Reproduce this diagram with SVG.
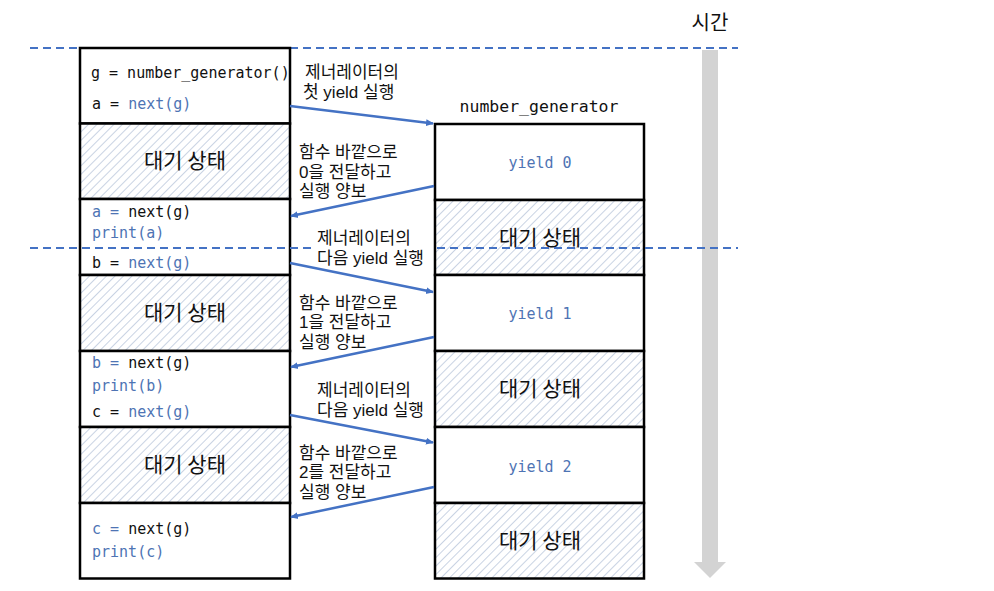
<svg xmlns="http://www.w3.org/2000/svg" width="994" height="591" viewBox="0 0 994 591">
<defs>
<pattern id="hatch" width="6" height="6" patternUnits="userSpaceOnUse" patternTransform="rotate(45)">
<rect width="6" height="6" fill="#ffffff"/>
<line x1="0" y1="0" x2="0" y2="6" stroke="#c9d3e3" stroke-width="2"/>
</pattern>
<marker id="ah" markerWidth="8" markerHeight="8" refX="7" refY="4" orient="auto" markerUnits="userSpaceOnUse">
<path d="M0,0.5 L8,4 L0,7.5 Z" fill="#4472c4"/>
</marker>
<style>
.box{fill:#ffffff;stroke:#000000;stroke-width:2.5}
.hbox{fill:url(#hatch);stroke:#000000;stroke-width:2.5}
.code{font-family:"DejaVu Sans Mono","Liberation Mono",monospace;font-size:15px;fill:#111111}
.blue{fill:#4e74b4}
.wait{font-family:"Noto Sans CJK KR","Noto Sans",sans-serif;font-size:21px;fill:#111111;text-anchor:middle}
.lbl{font-family:"Liberation Sans","Noto Sans CJK KR",sans-serif;font-size:17px;fill:#111111}
.dash{stroke:#4472c4;stroke-width:2;stroke-dasharray:8 5;fill:none}
.conn{stroke:#4472c4;stroke-width:2.5;fill:none;marker-end:url(#ah)}
</style>
</defs>
<rect width="994" height="591" fill="#ffffff"/>

<g id="timeline">
<line class="dash" x1="30" y1="48" x2="738" y2="48"/>
<path d="M702,50 H718 V562 H726 L710,578 L694,562 H702 Z" fill="#d3d3d3"/>
<text x="710" y="30" class="lbl" style="font-size:20px" text-anchor="middle">시간</text>
</g>

<g id="caller">
<g id="c1"><rect class="box" x="80" y="48" width="210" height="75.5"/>
<text class="code" x="91" y="78">g = number_generator()</text>
<text class="code" x="92" y="109">a = <tspan class="blue">next(g)</tspan></text></g>
<g id="c2"><rect class="hbox" x="80" y="123.5" width="210" height="75.5"/>
<text class="wait" x="185" y="168">대기 상태</text></g>
<g id="c3"><rect class="box" x="80" y="199" width="210" height="76"/>
<text class="code" x="92" y="217"><tspan class="blue">a = </tspan>next(g)</text>
<text class="code blue" x="92" y="238">print(a)</text>
<text class="code" x="92" y="268">b = <tspan class="blue">next(g)</tspan></text></g>
<g id="c4"><rect class="hbox" x="80" y="275" width="210" height="76"/>
<text class="wait" x="185" y="320">대기 상태</text></g>
<g id="c5"><rect class="box" x="80" y="351" width="210" height="76"/>
<text class="code" x="92" y="368"><tspan class="blue">b = </tspan>next(g)</text>
<text class="code blue" x="92" y="391">print(b)</text>
<text class="code" x="92" y="417">c = <tspan class="blue">next(g)</tspan></text></g>
<g id="c6"><rect class="hbox" x="80" y="427" width="210" height="76"/>
<text class="wait" x="185" y="472">대기 상태</text></g>
<g id="c7"><rect class="box" x="80" y="503" width="210" height="75.5"/>
<text class="code" x="92" y="534"><tspan class="blue">c = </tspan>next(g)</text>
<text class="code blue" x="92" y="557">print(c)</text></g>
</g>

<g id="generator">
<text x="539" y="112" text-anchor="middle" style="font-family:'DejaVu Sans Mono','Liberation Mono',monospace;font-size:16.5px;fill:#111111">number_generator</text>
<g id="g1"><rect class="box" x="435" y="124" width="209" height="76"/>
<text class="code blue" x="540" y="168" text-anchor="middle">yield 0</text></g>
<g id="g2"><rect class="hbox" x="435" y="200" width="209" height="75"/>
<text class="wait" x="540" y="245">대기 상태</text></g>
<g id="g3"><rect class="box" x="435" y="275" width="209" height="76"/>
<text class="code blue" x="540" y="319" text-anchor="middle">yield 1</text></g>
<g id="g4"><rect class="hbox" x="435" y="351" width="209" height="76"/>
<text class="wait" x="540" y="396">대기 상태</text></g>
<g id="g5"><rect class="box" x="435" y="427" width="209" height="76"/>
<text class="code blue" x="540" y="472" text-anchor="middle">yield 2</text></g>
<g id="g6"><rect class="hbox" x="435" y="503" width="209" height="75.5"/>
<text class="wait" x="540" y="548">대기 상태</text></g>
</g>

<g id="midline">
<line class="dash" x1="30" y1="248" x2="312" y2="248"/>
<line class="dash" x1="437" y1="248" x2="738" y2="248"/>
</g>

<g id="connectors">
<line class="conn" x1="290" y1="106" x2="433" y2="123.5"/>
<line class="conn" x1="434" y1="186" x2="291" y2="216"/>
<line class="conn" x1="290" y1="263" x2="433" y2="292"/>
<line class="conn" x1="434" y1="337" x2="291" y2="367"/>
<line class="conn" x1="290" y1="415" x2="433" y2="442.5"/>
<line class="conn" x1="434" y1="487" x2="291" y2="517"/>
</g>

<g id="labels">
<text class="lbl" x="305" y="78">제너레이터의<tspan x="303" dy="20">첫 yield 실행</tspan></text>
<text class="lbl" x="299" y="158">함수 바깥으로<tspan x="299" dy="19.5">0을 전달하고</tspan><tspan x="299" dy="19.5">실행 양보</tspan></text>
<text class="lbl" x="317" y="244">제너레이터의<tspan x="317" dy="20">다음 yield 실행</tspan></text>
<text class="lbl" x="299" y="308.5">함수 바깥으로<tspan x="299" dy="19.5">1을 전달하고</tspan><tspan x="299" dy="19.5">실행 양보</tspan></text>
<text class="lbl" x="317" y="396">제너레이터의<tspan x="317" dy="20">다음 yield 실행</tspan></text>
<text class="lbl" x="299" y="458.5">함수 바깥으로<tspan x="299" dy="19.5">2를 전달하고</tspan><tspan x="299" dy="19.5">실행 양보</tspan></text>
</g>
</svg>
